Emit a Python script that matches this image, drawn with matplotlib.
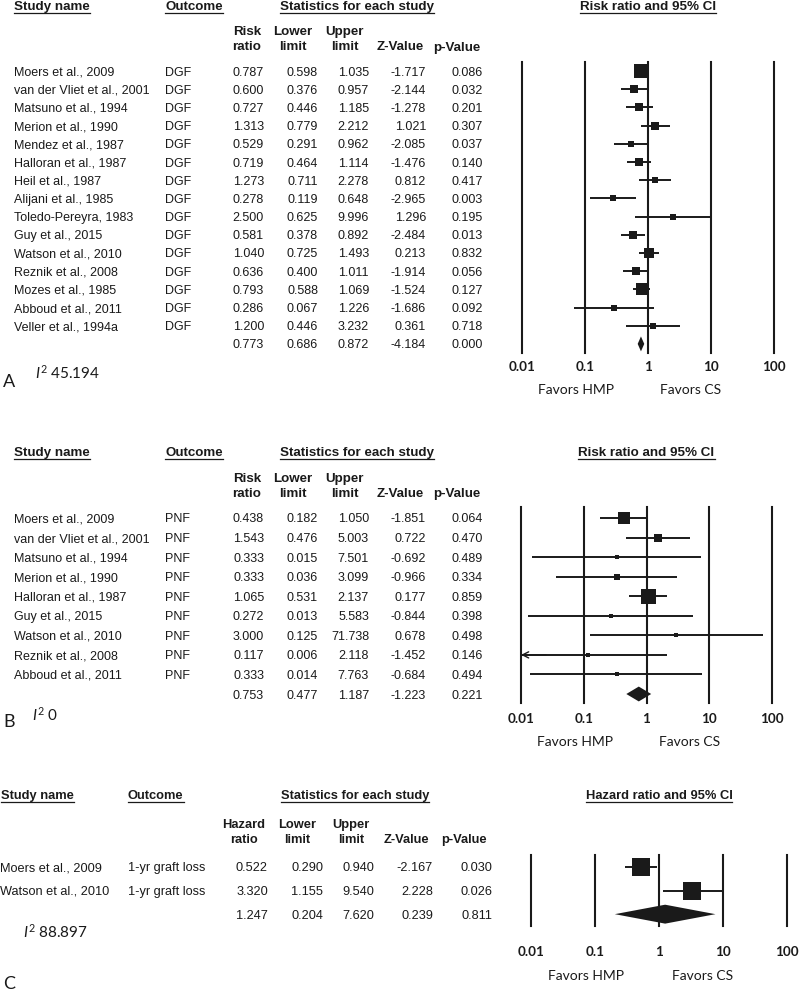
import numpy as np
import matplotlib
matplotlib.use('Agg')
import matplotlib.pyplot as plt
from matplotlib import font_manager
from matplotlib.lines import Line2D
from matplotlib.transforms import blended_transform_factory

# ---- panel A: delayed graft function ----
a_study = ['Moers et al., 2009', 'van der Vliet et al., 2001', 'Matsuno et al., 1994',
           'Merion et al., 1990', 'Mendez et al., 1987', 'Halloran et al., 1987',
           'Heil et al., 1987', 'Alijani et al., 1985', 'Toledo-Pereyra, 1983',
           'Guy et al., 2015', 'Watson et al., 2010', 'Reznik et al., 2008',
           'Mozes et al., 1985', 'Abboud et al., 2011', 'Veller et al., 1994a']
a_outcome = 'DGF'
a_ratio = [0.787, 0.600, 0.727, 1.313, 0.529, 0.719, 1.273, 0.278, 2.500, 0.581, 1.040, 0.636, 0.793, 0.286, 1.200]
a_lower = [0.598, 0.376, 0.446, 0.779, 0.291, 0.464, 0.711, 0.119, 0.625, 0.378, 0.725, 0.400, 0.588, 0.067, 0.446]
a_upper = [1.035, 0.957, 1.185, 2.212, 0.962, 1.114, 2.278, 0.648, 9.996, 0.892, 1.493, 1.011, 1.069, 1.226, 3.232]
a_z = [-1.717, -2.144, -1.278, 1.021, -2.085, -1.476, 0.812, -2.965, 1.296, -2.484, 0.213, -1.914, -1.524, -1.686, 0.361]
a_p = [0.086, 0.032, 0.201, 0.307, 0.037, 0.140, 0.417, 0.003, 0.195, 0.013, 0.832, 0.056, 0.127, 0.092, 0.718]
a_total = [0.773, 0.686, 0.872, -4.184, 0.000]   # ratio, lower, upper, z, p
a_i2 = '45.194'

# ---- panel B: primary non-function ----
b_study = ['Moers et al., 2009', 'van der Vliet et al., 2001', 'Matsuno et al., 1994',
           'Merion et al., 1990', 'Halloran et al., 1987', 'Guy et al., 2015',
           'Watson et al., 2010', 'Reznik et al., 2008', 'Abboud et al., 2011']
b_outcome = 'PNF'
b_ratio = [0.438, 1.543, 0.333, 0.333, 1.065, 0.272, 3.000, 0.117, 0.333]
b_lower = [0.182, 0.476, 0.015, 0.036, 0.531, 0.013, 0.125, 0.006, 0.014]
b_upper = [1.050, 5.003, 7.501, 3.099, 2.137, 5.583, 71.738, 2.118, 7.763]
b_z = [-1.851, 0.722, -0.692, -0.966, 0.177, -0.844, 0.678, -1.452, -0.684]
b_p = [0.064, 0.470, 0.489, 0.334, 0.859, 0.398, 0.498, 0.146, 0.494]
b_total = [0.753, 0.477, 1.187, -1.223, 0.221]
b_i2 = '0'

# ---- panel C: 1-yr graft loss ----
c_study = ['Moers et al., 2009', 'Watson et al., 2010']
c_outcome = '1-yr graft loss'
c_ratio = [0.522, 3.320]
c_lower = [0.290, 1.155]
c_upper = [0.940, 9.540]
c_z = [-2.167, 2.228]
c_p = [0.030, 0.026]
c_total = [1.247, 0.204, 7.620, 0.239, 0.811]
c_i2 = '88.897'

tick_vals = [0.01, 0.1, 1, 10, 100]
tick_text = ['0.01', '0.1', '1', '10', '100']
favors = ['Favors HMP', 'Favors CS']

plt.rcParams['font.family'] = 'Liberation Sans'
plt.rcParams['mathtext.fontset'] = 'custom'
plt.rcParams['mathtext.rm'] = 'Lato'
plt.rcParams['mathtext.it'] = 'Lato:italic'

installed = {f.name for f in font_manager.fontManager.ttflist}
if 'Liberation Sans Narrow' in installed:
    narrow, nscale = 'Liberation Sans Narrow', 1.0
else:
    narrow, nscale = 'Liberation Sans', 0.82

W, H = 800, 991
fig = plt.figure(figsize=(W / 100, H / 100), dpi=100)
ink = '#1a1a1a'
underlines = []


def fx(px):
    return px / W


def fy(py):
    return 1 - py / H


def draw_panel(cfg, study, outcome, est, lower, upper, zval, pval, total, i2):
    left, top, right, bottom = cfg['plot_box']
    ax = fig.add_axes([fx(left), fy(bottom), (right - left) / W, (bottom - top) / H])
    est, lower, upper = np.asarray(est), np.asarray(lower), np.asarray(upper)
    n = len(est)
    rows = np.arange(n)
    ax.set_xscale('log')
    ax.set_xlim(tick_vals[0], tick_vals[-1])
    ax.set_ylim(n + cfg['pad'][1], -cfg['pad'][0])
    ax.axis('off')

    for tv in tick_vals:
        ax.axvline(tv, color=ink, lw=1.5, clip_on=False, zorder=1)
    ax.hlines(rows, np.maximum(lower, tick_vals[0]), upper, color=ink, lw=1.4, zorder=2)
    for r in rows[lower < tick_vals[0]]:
        ax.annotate('', xy=(tick_vals[0], r), xytext=(tick_vals[0] * 2.5, r),
                    arrowprops=dict(arrowstyle='->', color=ink, lw=1.0, mutation_scale=11,
                                    shrinkA=0, shrinkB=0))

    # box size grows with study precision
    se = (np.log(upper) - np.log(lower)) / 3.92
    rel = (1 / se ** 2) / (1 / se ** 2).max()
    bmin, bmax, bpow = cfg['box']
    side = bmin + (bmax - bmin) * rel ** bpow
    for r in rows:
        ax.plot(est[r], r, marker='s', ms=side[r] * 0.72, color=ink, mew=0, zorder=3)

    dh = cfg['diamond']
    ax.fill([total[1], total[0], total[2], total[0]], [n, n - dh, n, n + dh],
            color=ink, lw=0, zorder=3)

    for tv, tt in zip(tick_vals, tick_text):
        ax.annotate(tt, (tv, 0), xycoords=('data', 'axes fraction'),
                    xytext=(0, -cfg['tick_off'] * 0.72), textcoords='offset points',
                    ha='center', va='center', family='Lato', weight='bold',
                    fontsize=9.7, color=ink, annotation_clip=False)
    for xv, lab in zip([0.072, 4.8], favors):
        ax.annotate(lab, (xv, 0), xycoords=('data', 'axes fraction'),
                    xytext=(0, -cfg['fav_off'] * 0.72), textcoords='offset points',
                    ha='center', va='center', family='Lato', fontsize=10,
                    color=ink, annotation_clip=False)

    # table on the left, rows share the y scale of the forest plot
    tr = blended_transform_factory(fig.transFigure, ax.transData)
    body = dict(family=cfg['font'], fontsize=cfg['body_fs'], color=ink,
                va='center_baseline', transform=tr)
    columns = [est, lower, upper, zval, pval]
    for r in rows:
        fig.text(fx(cfg['name_x']), r, study[r], ha='left', **body)
        fig.text(fx(cfg['out_x']), r, outcome, ha='left', **body)
        for xr, col in zip(cfg['num_right'], columns):
            fig.text(fx(xr), r, f'{col[r]:.3f}', ha='right', **body)
    for xr, v in zip(cfg['num_right'], total):
        fig.text(fx(xr), n, f'{v:.3f}', ha='right', **body)

    head = dict(family=cfg['font'], fontsize=cfg['head_fs'], weight='bold',
                color=ink, va='baseline')
    hb = cfg['head_base']
    hx = cfg['head_x']
    t1 = fig.text(fx(hx[0]), fy(hb), 'Study name', ha='left', **head)
    t2 = fig.text(fx(hx[1]), fy(hb), 'Outcome', ha='left', **head)
    t3 = fig.text(fx(hx[2]), fy(hb), 'Statistics for each study', ha='center', **head)
    t4 = fig.text(1, fy(hb), cfg['title'], ha='center',
                  transform=blended_transform_factory(ax.transData, fig.transFigure), **head)
    for t in (t1, t2, t3, t4):
        underlines.append((t, hb + cfg['ul_gap']))
    for xc, pair in zip(cfg['sub_x'], cfg['sub_text']):
        for yb, s in zip(cfg['sub_base'], pair):
            fig.text(fx(xc), fy(yb), s, ha='center', **head)

    fig.text(fx(cfg['letter_xy'][0]), fy(cfg['letter_xy'][1]), cfg['letter'],
             family='Lato', fontsize=13, color=ink, ha='left', va='center')
    fig.text(fx(cfg['i2_xy'][0]), fy(cfg['i2_xy'][1]), r'$I^{2}$ ' + i2,
             family='Lato', fontsize=11, color=ink, ha='left', va='center')


sub_rr = [('Risk', 'ratio'), ('Lower', 'limit'), ('Upper', 'limit'), ('', 'Z-Value'), ('', 'p-Value')]
sub_hr = [('Hazard', 'ratio'), ('Lower', 'limit'), ('Upper', 'limit'), ('', 'Z-Value'), ('', 'p-Value')]

cfg_a = dict(plot_box=(522, 62, 774, 353), pad=(0.5, 0.5),
             font='Liberation Sans', body_fs=9, head_fs=9.6,
             name_x=14, out_x=165, num_right=[264, 318, 369, 426, 483],
             head_x=[14, 165, 357], head_base=10, ul_gap=2.7,
             sub_x=[247, 293, 345, 400, 457], sub_base=(35, 50.5), sub_text=sub_rr,
             title='Risk ratio and 95% CI', box=(5, 14, 1.0), diamond=0.41,
             tick_off=14, fav_off=37, letter='A', letter_xy=(3, 382), i2_xy=(35, 373))

cfg_b = dict(cfg_a, plot_box=(521, 507, 772, 703), pad=(0.56, 0.46),
             head_base=456, sub_base=(482, 497), box=(3.5, 15, 0.75), diamond=0.38,
             tick_off=16, fav_off=39, letter='B', letter_xy=(3, 722), i2_xy=(32, 715))

cfg_c = dict(plot_box=(531, 855, 787, 926), pad=(0.5, 0.5),
             font=narrow, body_fs=11.2 * nscale, head_fs=11.3 * nscale,
             name_x=0.5, out_x=128, num_right=[268, 323, 374, 433, 492],
             head_x=[1, 128, 355], head_base=799, ul_gap=3,
             sub_x=[244, 297, 351, 406, 464], sub_base=(828, 843), sub_text=sub_hr,
             title='Hazard ratio and 95% CI', box=(18, 18, 1.0), diamond=0.4,
             tick_off=26, fav_off=50, letter='C', letter_xy=(3, 984), i2_xy=(23, 932))

draw_panel(cfg_a, a_study, a_outcome, a_ratio, a_lower, a_upper, a_z, a_p, a_total, a_i2)
draw_panel(cfg_b, b_study, b_outcome, b_ratio, b_lower, b_upper, b_z, b_p, b_total, b_i2)
draw_panel(cfg_c, c_study, c_outcome, c_ratio, c_lower, c_upper, c_z, c_p, c_total, c_i2)

# underline the column headers
fig.canvas.draw()
rend = fig.canvas.get_renderer()
for t, yl in underlines:
    bb = t.get_window_extent(rend)
    fig.add_artist(Line2D([bb.x0 / W, bb.x1 / W], [fy(yl)] * 2,
                          transform=fig.transFigure, color=ink, lw=0.9))

fig.savefig('out.png', dpi=100)
